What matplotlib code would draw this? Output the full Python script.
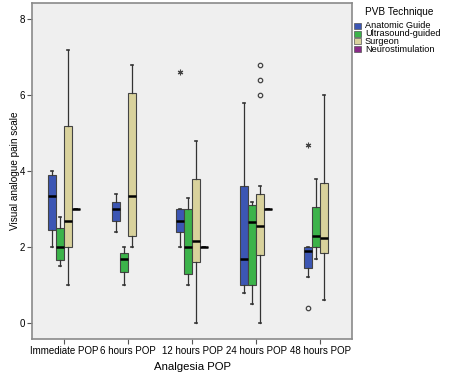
import matplotlib
matplotlib.use("Agg")
import matplotlib.pyplot as plt
from matplotlib.patches import Rectangle

plt.rcParams['font.family'] = ['Liberation Sans', 'DejaVu Sans']

categories = ["Immediate POP", "6 hours POP", "12 hours POP", "24 hours POP", "48 hours POP"]
series = ["Anatomic Guide", "Ultrasound-guided", "Surgeon", "Neurostimulation"]
colors = ["#3c56b4", "#3cb34a", "#d9d29c", "#8a2a88"]

# per series: [whisker low, Q1, median, Q3, whisker high] per category (None = no data)
anatomic = [[2.0, 2.45, 3.35, 3.9, 4.0],
            [2.4, 2.7, 3.0, 3.2, 3.4],
            [2.0, 2.4, 2.7, 3.0, 3.0],
            [0.8, 1.0, 1.7, 3.6, 5.8],
            [1.2, 1.45, 1.9, 2.0, 2.0]]
ultrasound = [[1.5, 1.65, 2.0, 2.5, 2.8],
              [1.0, 1.35, 1.7, 1.85, 2.0],
              [1.0, 1.3, 2.0, 3.0, 3.3],
              [0.5, 1.0, 2.65, 3.1, 3.2],
              [1.7, 2.0, 2.3, 3.05, 3.8]]
surgeon = [[1.0, 2.0, 2.7, 5.2, 7.2],
           [2.0, 2.3, 3.35, 6.05, 6.8],
           [0.0, 1.6, 2.15, 3.8, 4.8],
           [0.0, 1.8, 2.55, 3.4, 3.6],
           [0.6, 1.85, 2.25, 3.7, 6.0]]
neurostim = [[3.0, 3.0, 3.0, 3.0, 3.0],
             None,
             [2.0, 2.0, 2.0, 2.0, 2.0],
             [3.0, 3.0, 3.0, 3.0, 3.0],
             None]
# outliers: (series index, category index, value)
outliers_circle = [(2, 3, 6.0), (2, 3, 6.4), (2, 3, 6.8), (0, 4, 0.4)]
outliers_extreme = [(0, 2, 6.6), (0, 4, 4.7)]

all_series = [anatomic, ultrasound, surgeon, neurostim]
yticks = [0, 2, 4, 6, 8]

fig = plt.figure(figsize=(4.5, 3.77), dpi=100)
ax = fig.add_axes([32/450, 1-339/377, 320/450, 336/377])
ax.set_facecolor("#efefef")

slot = 0.125
offsets = [(-1.5 + i) * slot for i in range(4)]
for si, data in enumerate(all_series):
    stats, pos = [], []
    for ci, d in enumerate(data):
        if d is None:
            continue
        stats.append(dict(whislo=d[0], q1=d[1], med=d[2], q3=d[3], whishi=d[4], fliers=[]))
        pos.append(ci + offsets[si])
    ax.bxp(stats, positions=pos, widths=0.11, patch_artist=True, manage_ticks=False,
           boxprops=dict(facecolor=colors[si], edgecolor="#444444", linewidth=0.8),
           medianprops=dict(color="black", linewidth=1.8),
           whiskerprops=dict(color="#333333", linewidth=0.9),
           capprops=dict(color="#333333", linewidth=1.2), capwidths=0.04)

for si, ci, v in outliers_circle:
    ax.plot(ci + offsets[si], v, 'o', ms=3.2, mfc='none', mec='#444444', mew=0.9)
for si, ci, v in outliers_extreme:
    ax.plot(ci + offsets[si], v, marker=(6, 2, 0), ms=4, color='#444444', mew=0.8, ls='none')

ax.set_xlim(-0.5, 4.5)
ax.set_ylim(-0.42, 8.43)
ax.set_xticks(range(len(categories)))
ax.set_xticklabels(categories, fontsize=7)
ax.set_yticks(yticks)
ax.set_yticklabels([str(t) for t in yticks], fontsize=7)
ax.tick_params(axis='both', length=3.5, width=0.8, color='#555555', pad=1.5)
for sp in ax.spines.values():
    sp.set_color('#8a8a8a')
    sp.set_linewidth(1.2)
ax.set_xlabel("Analgesia POP", fontsize=8.2, labelpad=4)
ax.set_ylabel("Visual analogue pain scale", fontsize=7.2, labelpad=0)

# legend
fig.text(365/450, 1-12/377, "PVB Technique", fontsize=7.2, va='center', ha='left')
for i, (name, c) in enumerate(zip(series, colors)):
    yc = 26 + i * 7.7
    fig.add_artist(Rectangle((354/450, 1-(yc+3)/377), 7/450, 6/377, transform=fig.transFigure,
                             facecolor=c, edgecolor='#555555', linewidth=0.5))
    fig.text(365/450, 1-yc/377, name, fontsize=6.6, va='center', ha='left')

fig.savefig("out.png", dpi=100)
